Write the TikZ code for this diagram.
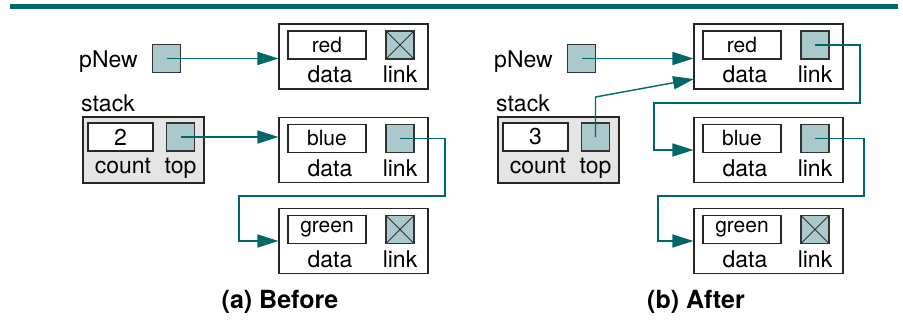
\documentclass[tikz,border=0pt]{standalone}
\usepackage{fontspec}
\setmainfont{TeX Gyre Heros}
\usetikzlibrary{arrows.meta,calc}
\definecolor{tealc}{RGB}{0,104,104}
\definecolor{ptrfill}{RGB}{170,201,204}
\definecolor{stackgray}{RGB}{229,229,229}
\newcommand{\mkcell}[5]{%
  \node[outerbox] (#1) at (#2,#3) {};
  \node[valbox] (#1v) at ($(#1.center)+(-26.5,-11.5)$) {#4};
  \node[#5] (#1k) at ($(#1.center)+(46.5,-11.5)$) {};
  \node[lbl] (#1d) at ($(#1.center)+(-23.5,26)$) {data};
  \node[lbl] (#1l) at ($(#1.center)+(46.5,26)$) {link};
}
\begin{document}
\begin{tikzpicture}[x=1pt,y=-1pt,
  outerbox/.style={draw=black!85,line width=1.1pt,minimum width=149pt,minimum height=65pt,inner sep=0pt},
  valbox/.style={draw=black!85,fill=white,line width=1.1pt,minimum width=78pt,minimum height=28pt,inner sep=0pt,font=\fontsize{21}{24}\selectfont},
  ptrbox/.style={draw=black!80,fill=ptrfill,line width=1.1pt,minimum width=28pt,minimum height=28pt,inner sep=0pt},
  nullbox/.style={ptrbox,path picture={\draw[line width=0.8pt] (path picture bounding box.south west)--(path picture bounding box.north east) (path picture bounding box.north west)--(path picture bounding box.south east);}},
  stackbox/.style={draw=black!85,fill=stackgray,line width=1.1pt,minimum width=121pt,minimum height=66pt,inner sep=0pt},
  cntbox/.style={valbox,minimum width=65pt,font=\fontsize{23}{26}\selectfont},
  lbl/.style={font=\fontsize{23}{26}\selectfont,inner sep=0pt,anchor=base},
  ttl/.style={font=\fontsize{25}{30}\selectfont\bfseries,inner sep=0pt},
  ptr/.style={draw=tealc,line width=1.4pt,-{Triangle[length=21pt,width=13pt]}}
]
\useasboundingbox (0,0) rectangle (903,321);
\fill[tealc] (10,4) rectangle (898,9.5);

% ---------- (a) Before ----------
\node[lbl,anchor=base east] (pnewLt) at (138,67) {pNew};
\node[ptrbox] (pnewL) at (166.5,58.5) {};
\node[lbl,anchor=base west] (stackLt) at (81,111) {stack};
\node[stackbox] (stackL) at (143.5,150) {};
\node[cntbox] (countL) at (120.5,137) {2};
\node[ptrbox] (topL) at (180.5,137) {};
\node[lbl] (countLt) at (123,173) {count};
\node[lbl] (topLt) at (180.5,173) {top};

\mkcell{redL}{353.5}{56.5}{red}{nullbox}
\mkcell{blueL}{353.5}{150}{blue}{ptrbox}
\mkcell{greenL}{353.5}{241}{green}{nullbox}

\coordinate (bLa) at (445,196);
\coordinate (bLb) at (239,196);
\draw[ptr] (pnewL.center) -- (pnewL.center -| redL.west);
\draw[ptr] (topL.center) -- (topL.center -| blueL.west);
\draw[ptr] (blueLk.center) -| (bLa) -- (bLb) |- (greenL.west);

\node[ttl] (capA) at (280,302) {(a) Before};

% ---------- (b) After ----------
\node[lbl,anchor=base east] (pnewRt) at (553,67) {pNew};
\node[ptrbox] (pnewR) at (581.5,58.5) {};
\node[lbl,anchor=base west] (stackRt) at (496,111) {stack};
\node[stackbox] (stackR) at (558.5,150) {};
\node[cntbox] (countR) at (535.5,137) {3};
\node[ptrbox] (topR) at (595.5,137) {};
\node[lbl] (countRt) at (538,173) {count};
\node[lbl] (topRt) at (595.5,173) {top};

\mkcell{redR}{768.5}{56.5}{red}{ptrbox}
\mkcell{blueR}{768.5}{150}{blue}{ptrbox}
\mkcell{greenR}{768.5}{241}{green}{nullbox}

\coordinate (tRa) at (595.5,97);
\coordinate (tRb) at (694,79);
\coordinate (rRa) at (860,103);
\coordinate (rRb) at (654,103);
\coordinate (bRa) at (864,196);
\coordinate (bRb) at (658,196);
\draw[ptr] (pnewR.center) -- (pnewR.center -| redR.west);
\draw[ptr] (topR.center) -- (tRa) -- (tRb);
\draw[ptr] (redRk.center) -| (rRa) -- (rRb) |- (blueR.west);
\draw[ptr] (blueRk.center) -| (bRa) -- (bRb) |- (greenR.west);

\node[ttl] (capB) at (696,302) {(b) After};
\end{tikzpicture}
\end{document}
